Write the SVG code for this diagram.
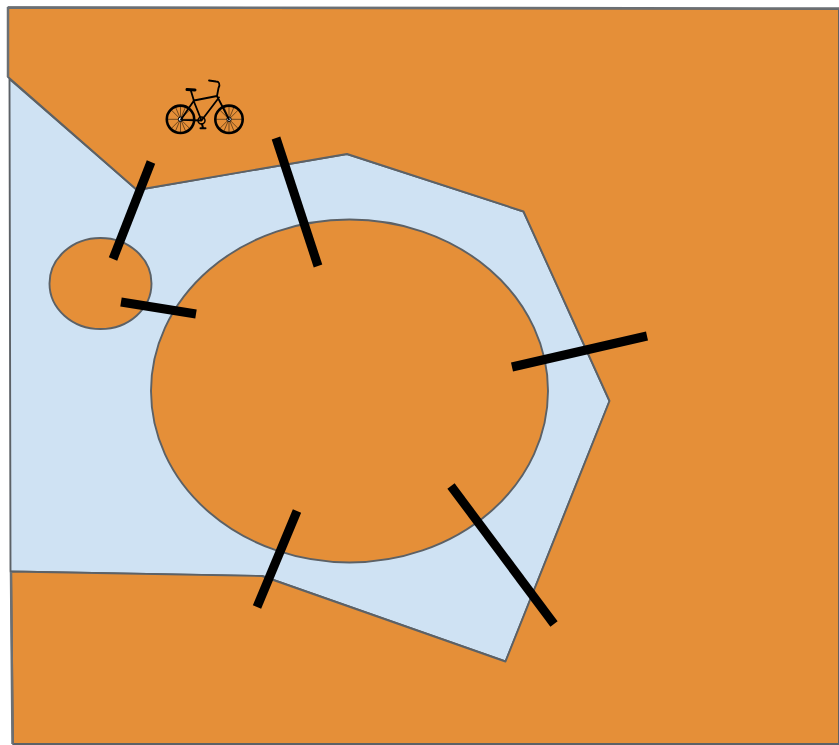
<svg xmlns="http://www.w3.org/2000/svg" width="839" height="745" viewBox="0 0 839 745">
<style>
.region{stroke:#5c6166;stroke-width:1.9;stroke-linejoin:round}
.orange{fill:#e58f38}
.blue{fill:#cfe2f3}
.bar{stroke:#000;stroke-width:9;fill:none}
.edge{stroke:#6b6f73;fill:none}
.bk{stroke:#000;fill:none;stroke-linecap:round;stroke-linejoin:round}
.spoke{stroke:#000;stroke-width:.5;fill:none}
</style>
<rect width="839" height="745" fill="#fff"/>
<g id="water"><polygon class="region blue" points="9.500,79 137,190 347,154 523.500,211.500 609.500,401 505.500,661.500 262,576 10.500,571.500"/></g>
<g id="land"><polygon class="region orange" points="8,7.500 839,9 839,744 13,744 11,571.500 262,576 505.500,661.500 609.500,401 523.500,211.500 347,154 137,190 8,77"/></g>
<g id="island-large"><ellipse class="region orange" cx="349.500" cy="391" rx="198.500" ry="171.500"/></g>
<g id="island-small"><ellipse class="region orange" cx="100.500" cy="283.500" rx="51" ry="45.500"/></g>
<g id="borders">
<path class="edge" stroke-width="2.500" d="M8 7.500L839 8.500M8 7V77M11 572L12.500 744"/>
</g>
<g id="connectors">
<line class="bar" x1="151" y1="162" x2="113" y2="259"/>
<line class="bar" x1="276" y1="138" x2="318" y2="266"/>
<line class="bar" x1="121" y1="302" x2="196" y2="314"/>
<line class="bar" x1="512" y1="367" x2="647" y2="336"/>
<line class="bar" x1="451" y1="486" x2="554" y2="624"/>
<line class="bar" x1="297" y1="511" x2="257" y2="607"/>
</g>
<g id="bicycle">
<circle class="bk" cx="180.500" cy="119.300" r="13.700" stroke-width="2.600"/>
<circle class="bk" cx="229" cy="119.300" r="13.700" stroke-width="2.600"/>
<path class="spoke" d="M180.500 106V132M167.500 119.300H193.500M171.300 110L189.700 128.500M171.300 128.500L189.700 110M175.500 107L185.500 131M175.500 131L185.500 107"/>
<path class="spoke" d="M229 106V132M216 119.300H242M219.800 110L238.200 128.500M219.800 128.500L238.200 110M224 107L234 131M224 131L234 107"/>
<circle cx="180.500" cy="119.300" r="2.200" fill="#dfe6ee" stroke="#000"/>
<circle cx="229" cy="119.300" r="2.200" fill="#dfe6ee" stroke="#000"/>
<circle class="bk" cx="201.500" cy="120.500" r="3.500" stroke-width="1.500"/>
<path class="bk" stroke-width="1.800" d="M181 119.500L194 100.500L217 96L229 119.500M181 119.800L201.500 120.500L219 97.500M193.500 100.500L201.500 120.500M191 91L194 101M217 96L218.500 88C220.500 84 219 81.500 216 81.500L209 80.500"/>
<path class="bk" stroke-width="3" d="M187 89.500L195 90"/>
<path class="bk" stroke-width="2" d="M202 124L203 128M200.500 128.300L205.500 128.300"/>
</g>
</svg>
